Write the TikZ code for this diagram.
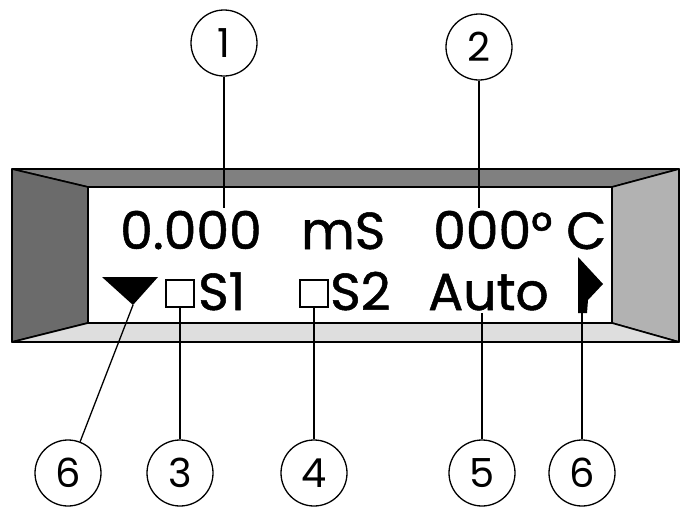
\documentclass[tikz,border=0pt]{standalone}
\usepackage{fontspec}
\setmainfont{Poppins}
\newfontface\lcdfont{Poppins}[FakeBold=1.0]
\begin{document}
\begin{tikzpicture}[x=1pt,y=-1pt,
  lcd/.style={font=\lcdfont\fontsize{52}{52}\selectfont, inner sep=0pt, anchor=base west},
  num/.style={circle, draw, line width=1.3pt, minimum size=66pt, inner sep=0pt,
              font=\fontsize{40}{40}\selectfont},
  leader/.style={line width=1.3pt},
  frame/.style={draw=black, line width=1.6pt, line join=round},
  pixbox/.style={draw, line width=1.4pt, minimum width=28pt, minimum height=27pt, inner sep=0pt}]
  % canvas
  \fill[white] (0,0) rectangle (680,504);
  % bezel around the window
  \fill[white] (88,187) rectangle (612,323);
  \filldraw[frame, fill=black!50] (12,169) -- (679,169) -- (612,187) -- (88,187) -- cycle;
  \filldraw[frame, fill=black!58] (12,169) -- (88,187) -- (88,323) -- (12,342) -- cycle;
  \filldraw[frame, fill=black!30] (679,169) -- (612,187) -- (612,323) -- (679,342) -- cycle;
  \filldraw[frame, fill=black!13] (12,342) -- (88,323) -- (612,323) -- (679,342) -- cycle;
  % display text, first line
  \node[lcd] (val) at (120,249) {0.000};
  \node[lcd] (unit) at (301,249) {mS};
  \node[lcd] (temp) at (433,249) {000°};
  \node[lcd] (degc) at (566,249) {C};
  % display text, second line
  \fill (102,277) -- (158,277) -- (133,305) -- cycle;
  \coordinate (tri) at (133,305);
  \node[pixbox] (sq1) at (180,293.5) {};
  \node[lcd] (s1) at (198,310) {S1};
  \node[pixbox] (sq2) at (314,293.5) {};
  \node[lcd] (s2) at (330,310) {S2};
  \node[lcd] (auto) at (428,310) {Auto};
  \fill (578,257) -- (603,284) -- (588,300) -- (587,313) -- (578,313) -- cycle;
  \coordinate (flag) at (582,313);
  \coordinate (autob) at (482,313);
  \coordinate (t1) at (224,208);
  \coordinate (t2) at (479,208);
  % callout circles
  \node[num] (n1) at (224,43) {1};
  \node[num] (n2) at (479,47) {2};
  \node[num] (n6a) at (68,473) {6};
  \node[num] (n3) at (180,473) {3};
  \node[num] (n4) at (314,473) {4};
  \node[num] (n5) at (482,473) {5};
  \node[num] (n6b) at (582,473) {6};
  % leader lines
  \draw[leader] (n1) -- (t1);
  \draw[leader] (n2) -- (t2);
  \draw[leader] (n6a) -- (tri);
  \draw[leader] (n3) -- (sq1.south);
  \draw[leader] (n4) -- (sq2.south);
  \draw[leader] (n5) -- (autob);
  \draw[leader] (n6b) -- (flag);
\end{tikzpicture}
\end{document}
